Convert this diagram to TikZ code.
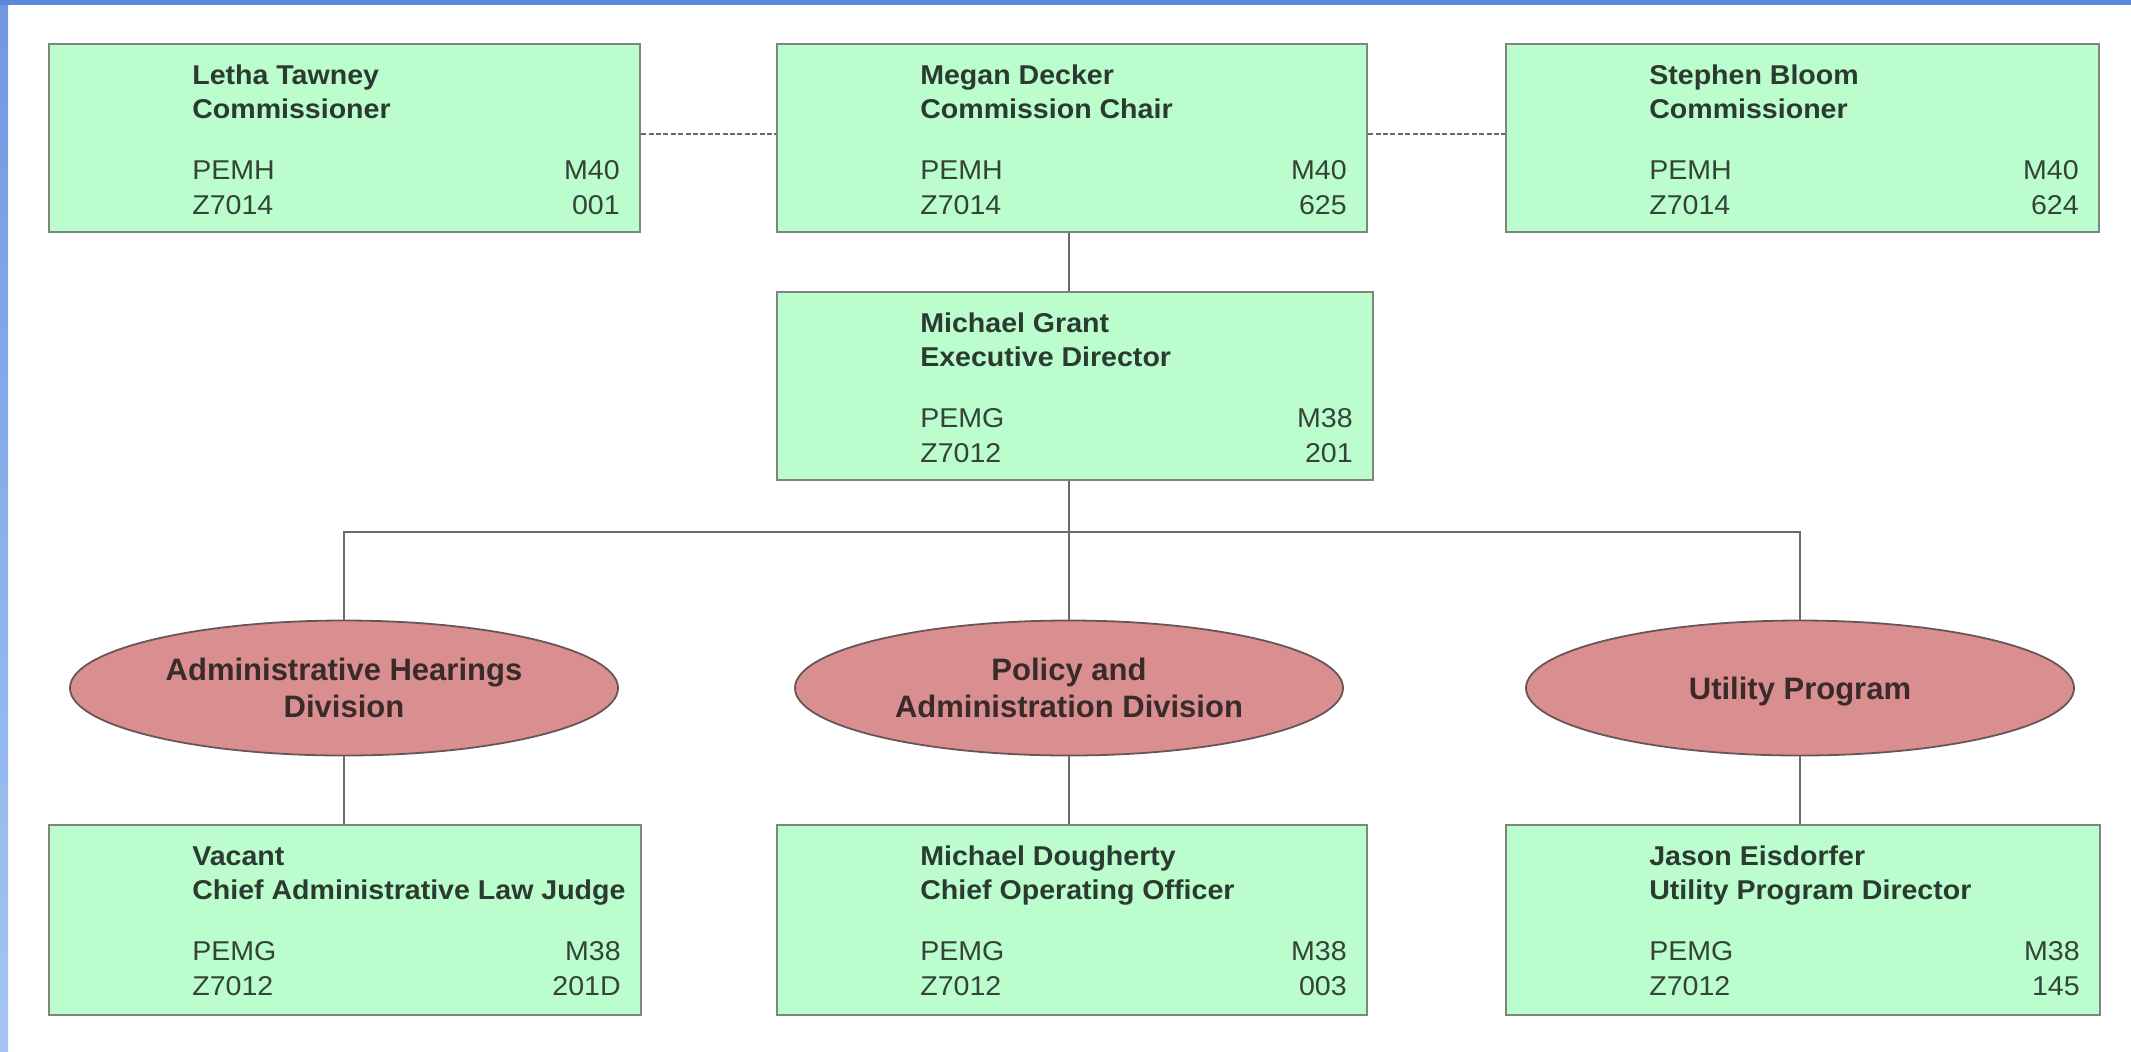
\documentclass[tikz,border=0pt]{standalone}
\usepackage{fontspec}
\setmainfont{Liberation Sans}
\newfontfamily\boxfont[FakeStretch=1.05]{Liberation Sans}
\usetikzlibrary{shapes.geometric,fit}
\definecolor{boxfill}{RGB}{187,253,204}
\definecolor{boxline}{RGB}{125,135,128}
\definecolor{divfill}{RGB}{217,143,143}
\definecolor{divline}{RGB}{105,85,85}
\definecolor{linkcol}{RGB}{105,105,105}
\definecolor{nametext}{RGB}{44,59,49}
\definecolor{codetext}{RGB}{52,68,57}
\definecolor{divtext}{RGB}{58,42,42}
\definecolor{bandtop}{RGB}{91,136,221}
\definecolor{bandA}{RGB}{112,152,226}
\definecolor{bandB}{RGB}{165,198,242}
\tikzset{
  pbox/.style={draw=boxline, fill=boxfill, line width=1.1pt, inner sep=0pt},
  ntext/.style={inner sep=0pt, text=nametext, font=\boxfont\fontsize{13.6}{16}\selectfont\bfseries},
  ctext/.style={inner sep=0pt, text=codetext, font=\boxfont\fontsize{13.6}{16}\selectfont},
  division/.style={ellipse, draw=divline, fill=divfill, line width=0.9pt, inner sep=0pt,
    minimum width=274pt, minimum height=67.5pt, align=center, text=divtext,
    font=\fontsize{15.5}{18.5}\selectfont\bfseries},
  link/.style={draw=linkcol, line width=1pt},
  dashlink/.style={draw=linkcol, line width=0.7pt, dash pattern=on 2.5pt off 1.2pt}
}
\newcommand\personbox[9]{%
  \node[pbox, fit={#2 #3}] (#1) {};
  \node[ntext, anchor=base west] (#1-name) at ([shift={(144,42)}]#1.north west) {#4};
  \node[ntext, anchor=base west] (#1-title) at ([shift={(144,76)}]#1.north west) {#5};
  \node[ctext, anchor=base west] (#1-grade) at ([shift={(144,137)}]#1.north west) {#6};
  \node[ctext, anchor=base east] (#1-range) at ([shift={(-21,137)}]#1.north east) {#7};
  \node[ctext, anchor=base west] (#1-class) at ([shift={(144,172)}]#1.north west) {#8};
  \node[ctext, anchor=base east] (#1-pos) at ([shift={(-21,172)}]#1.north east) {#9};
}
\begin{document}
\begin{tikzpicture}[x=0.5pt,y=-0.5pt]
\useasboundingbox (0,0) rectangle (2131,1051);
\fill[white] (0,0) rectangle (2131,1051);
\shade[top color=bandA, bottom color=bandB] (0,0) rectangle (8,1051);
\fill[bandtop] (0,0) rectangle (2131,5);

% top row
\personbox{letha}{(49,44)}{(640,232)}{Letha Tawney}{Commissioner}{PEMH}{M40}{Z7014}{001}
\personbox{megan}{(777,44)}{(1367,232)}{Megan Decker}{Commission Chair}{PEMH}{M40}{Z7014}{625}
\personbox{stephen}{(1506,44)}{(2099,232)}{Stephen Bloom}{Commissioner}{PEMH}{M40}{Z7014}{624}
% director
\personbox{grant}{(777,292)}{(1373,480)}{Michael Grant}{Executive Director}{PEMG}{M38}{Z7012}{201}
% divisions
\node[division] (ahd) at (344,688) {Administrative Hearings\\Division};
\node[division] (pad) at (1069,688) {Policy and\\Administration Division};
\node[division] (up) at (1800,688) {\raisebox{-5.5pt}[0pt][0pt]{Utility Program}};
% bottom row
\personbox{vacant}{(49,825)}{(641,1015)}{Vacant}{Chief Administrative Law Judge}{PEMG}{M38}{Z7012}{201D}
\personbox{dough}{(777,825)}{(1367,1015)}{Michael Dougherty}{Chief Operating Officer}{PEMG}{M38}{Z7012}{003}
\personbox{eis}{(1506,825)}{(2100,1015)}{Jason Eisdorfer}{Utility Program Director}{PEMG}{M38}{Z7012}{145}

% connectors
\coordinate (dashy) at (0,134);
\coordinate (busy) at (0,532);
\draw[dashlink] (letha.east |- dashy) -- (megan.west |- dashy);
\draw[dashlink] (megan.east |- dashy) -- (stephen.west |- dashy);
\draw[link] (pad.north |- megan.south) -- (pad.north |- grant.north);
\draw[link] (pad.north |- grant.south) -- (pad.north);
\draw[link] (ahd.north) -- (ahd.north |- busy) -- (up.north |- busy) -- (up.north);
\draw[link] (ahd.south) -- (ahd.south |- vacant.north);
\draw[link] (pad.south) -- (pad.south |- dough.north);
\draw[link] (up.south) -- (up.south |- eis.north);
\end{tikzpicture}
\end{document}
